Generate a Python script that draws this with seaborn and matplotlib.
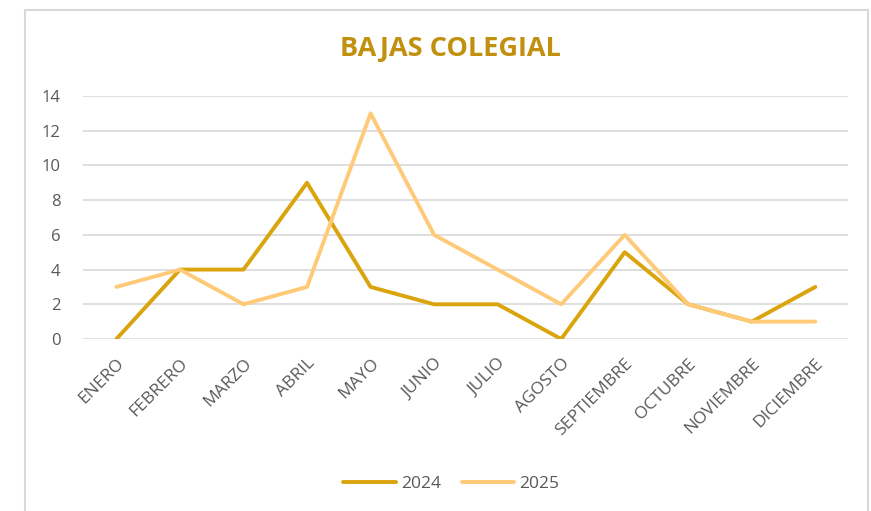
import matplotlib
matplotlib.use("Agg")
import matplotlib.pyplot as plt
import seaborn as sns
import pandas as pd
from matplotlib.patches import Rectangle
from matplotlib.lines import Line2D

months = ["ENERO", "FEBRERO", "MARZO", "ABRIL", "MAYO", "JUNIO", "JULIO",
          "AGOSTO", "SEPTIEMBRE", "OCTUBRE", "NOVIEMBRE", "DICIEMBRE"]
y2024 = [0, 4, 4, 9, 3, 2, 2, 0, 5, 2, 1, 3]
y2025 = [3, 4, 2, 3, 13, 6, 4, 2, 6, 2, 1, 1]
series_names = ["2024", "2025"]
yticks = [0, 2, 4, 6, 8, 10, 12, 14]

df = pd.DataFrame({
    "Mes": months * 2,
    "Valor": y2024 + y2025,
    "Serie": [series_names[0]] * 12 + [series_names[1]] * 12,
})
df["x"] = list(range(12)) * 2

sns.set_theme(style="white")
plt.rcParams['font.family'] = ['Open Sans', 'DejaVu Sans']

fig = plt.figure(figsize=(8.71, 5.11), dpi=100)
ax = fig.add_axes([0.095, 0.3366, 0.879, 0.4755])

palette = {"2024": "#D9A40C", "2025": "#FFCA78"}
sns.lineplot(data=df, x="x", y="Valor", hue="Serie", palette=palette,
             linewidth=2.8, ax=ax, legend=False, sort=False)

ax.set_xlim(-0.53, 11.52)
ax.set_ylim(0, 14)
ax.set_yticks(yticks)
ax.set_yticklabels([str(v) for v in yticks], color="#595959", fontsize=12)
ax.set_xticks(range(12))
ax.set_xticklabels(months, rotation=45, ha="right", rotation_mode="anchor",
                   color="#595959", fontsize=12.5)
ax.tick_params(axis="y", length=0, pad=16)
ax.tick_params(axis="x", length=0, pad=12)
ax.grid(axis="y", color="#D9D9D9", linewidth=1.2)
ax.set_axisbelow(True)
for s in ax.spines.values():
    s.set_visible(False)
ax.set_xlabel("")
ax.set_ylabel("")

fig.text(0.517, 0.905, "BAJAS COLEGIAL", ha="center", va="center",
         fontsize=19.5, fontweight="bold", color="#C1900E")

handles = [Line2D([0], [0], color=palette[n], linewidth=2.8) for n in series_names]
fig.legend(handles, series_names, loc="center", bbox_to_anchor=(0.518, 0.053),
           ncol=2, frameon=False, fontsize=12.5, labelcolor="#595959",
           handlelength=3.0, columnspacing=1.2, handletextpad=0.3)

fig.patches.append(Rectangle((25 / 871, -0.05), (868 - 25) / 871, 1 - 10 / 511 + 0.05,
                             transform=fig.transFigure, fill=False,
                             edgecolor="#D9D9D9", linewidth=1.5))

fig.savefig("out.png", dpi=100)
